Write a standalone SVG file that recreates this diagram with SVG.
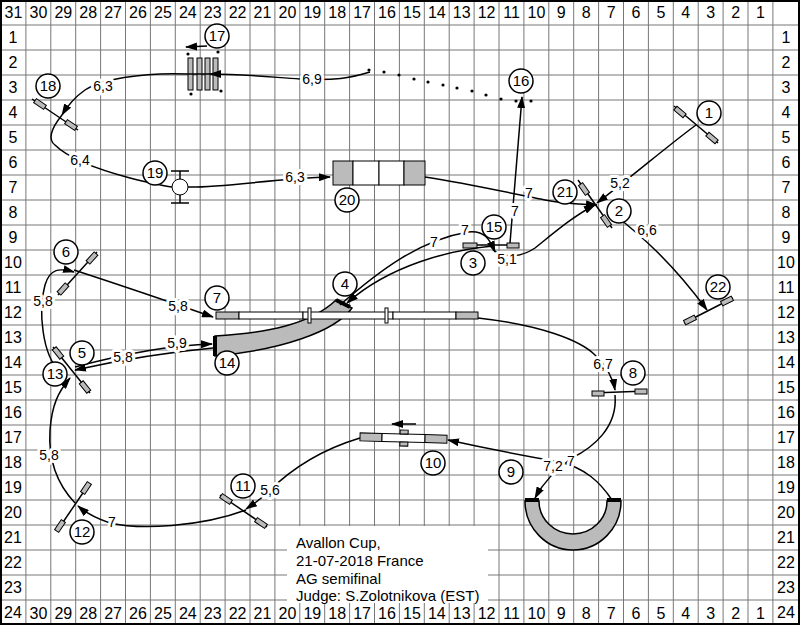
<svg xmlns="http://www.w3.org/2000/svg" width="800" height="625" viewBox="0 0 800 625">
<style>
.g{stroke:#777;stroke-width:1;fill:none}
.gl{font:16px "Liberation Sans",Arial,sans-serif;fill:#000;text-anchor:middle}
.c{fill:none;stroke:#000;stroke-width:1.5}
.ca{fill:none;stroke:#000;stroke-width:1.5;marker-end:url(#ah)}
.lb{font-family:"Liberation Sans",Arial,sans-serif;font-size:14px;text-anchor:middle;fill:#000;stroke:#fff;stroke-width:6px;stroke-linejoin:round;paint-order:stroke fill}
.nc{fill:#fff;stroke:#000;stroke-width:1.5}
.nt{font:15px "Liberation Sans",Arial,sans-serif;text-anchor:middle;fill:#000}
.w{fill:#bbb;stroke:#000;stroke-width:1}
.wh{fill:#fff;stroke:#000;stroke-width:1}
.bar{stroke:#000;stroke-width:1.5}
.tu{fill:#bbb;stroke:#000;stroke-width:1.5}
.cap{stroke:#000;stroke-width:4}
.info{font:15px "Liberation Sans",Arial,sans-serif;fill:#000}
</style>
<defs>
<marker id="ah" viewBox="0 0 12 8" refX="11" refY="4" markerWidth="12" markerHeight="8" markerUnits="userSpaceOnUse" orient="auto"><path d="M0,0 L12,4 L0,8 Z" fill="#000"/></marker>
<rect id="wr" x="-6" y="-2.5" width="12" height="5" class="w"/>
</defs>
<rect width="800" height="625" fill="#fff"/>
<g id="grid">
<path class="g" d="M25.9,0V625M50.8,0V625M75.7,0V625M100.6,0V625M125.5,0V625M150.4,0V625M175.3,0V625M200.2,0V625M225.1,0V625M250,0V625M274.9,0V625M299.8,0V625M324.7,0V625M349.6,0V625M374.5,0V625M399.4,0V625M424.3,0V625M449.2,0V625M474.1,0V625M499,0V625M523.9,0V625M548.8,0V625M573.7,0V625M598.6,0V625M623.5,0V625M648.4,0V625M673.3,0V625M698.2,0V625M723.1,0V625M748,0V625M772.9,0V625M0,25H800M0,50H800M0,75H800M0,100H800M0,125H800M0,150H800M0,175H800M0,200H800M0,225H800M0,250H800M0,275H800M0,300H800M0,325H800M0,350H800M0,375H800M0,400H800M0,425H800M0,450H800M0,475H800M0,500H800M0,525H800M0,550H800M0,575H800M0,600H800"/>
<rect x="1" y="1" width="798" height="623" fill="none" stroke="#000" stroke-width="2"/>
<g class="gl">
<text x="13.5" y="18">31</text><text x="38.4" y="18">30</text><text x="63.3" y="18">29</text><text x="88.2" y="18">28</text><text x="113.1" y="18">27</text><text x="138" y="18">26</text><text x="162.9" y="18">25</text><text x="187.8" y="18">24</text><text x="212.7" y="18">23</text><text x="237.6" y="18">22</text><text x="262.5" y="18">21</text><text x="287.4" y="18">20</text><text x="312.3" y="18">19</text><text x="337.2" y="18">18</text><text x="362.1" y="18">17</text><text x="387" y="18">16</text><text x="411.9" y="18">15</text><text x="436.8" y="18">14</text><text x="461.7" y="18">13</text><text x="486.6" y="18">12</text><text x="511.5" y="18">11</text><text x="536.4" y="18">10</text><text x="561.3" y="18">9</text><text x="586.2" y="18">8</text><text x="611.1" y="18">7</text><text x="636" y="18">6</text><text x="660.9" y="18">5</text><text x="685.8" y="18">4</text><text x="710.7" y="18">3</text><text x="735.6" y="18">2</text><text x="760.5" y="18">1</text>
<text x="13" y="43">1</text><text x="13" y="68">2</text><text x="13" y="93">3</text><text x="13" y="118">4</text><text x="13" y="143">5</text><text x="13" y="168">6</text><text x="13" y="193">7</text><text x="13" y="218">8</text><text x="13" y="243">9</text><text x="13" y="268">10</text><text x="13" y="293">11</text><text x="13" y="318">12</text><text x="13" y="343">13</text><text x="13" y="368">14</text><text x="13" y="393">15</text><text x="13" y="418">16</text><text x="13" y="443">17</text><text x="13" y="468">18</text><text x="13" y="493">19</text><text x="13" y="518">20</text><text x="13" y="543">21</text><text x="13" y="568">22</text><text x="13" y="593">23</text><text x="13" y="618">24</text>
<text x="786" y="43">1</text><text x="786" y="68">2</text><text x="786" y="93">3</text><text x="786" y="118">4</text><text x="786" y="143">5</text><text x="786" y="168">6</text><text x="786" y="193">7</text><text x="786" y="218">8</text><text x="786" y="243">9</text><text x="786" y="268">10</text><text x="786" y="293">11</text><text x="786" y="318">12</text><text x="786" y="343">13</text><text x="786" y="368">14</text><text x="786" y="393">15</text><text x="786" y="418">16</text><text x="786" y="443">17</text><text x="786" y="468">18</text><text x="786" y="493">19</text><text x="786" y="518">20</text><text x="786" y="543">21</text><text x="786" y="568">22</text><text x="786" y="593">23</text><text x="786" y="618">24</text>
</g>
</g>
<g id="info">
<rect x="287" y="526" width="201" height="77" fill="#fff"/>
<text class="info" x="296" y="548">Avallon Cup,</text>
<text class="info" x="296" y="566">21-07-2018 France</text>
<text class="info" x="296" y="584">AG semifinal</text>
<text class="info" x="296" y="601">Judge: S.Zolotnikova (EST)</text>
</g>
<g class="gl">
<text x="38.4" y="619">30</text><text x="63.3" y="619">29</text><text x="88.2" y="619">28</text><text x="113.1" y="619">27</text><text x="138" y="619">26</text><text x="162.9" y="619">25</text><text x="187.8" y="619">24</text><text x="212.7" y="619">23</text><text x="237.6" y="619">22</text><text x="262.5" y="619">21</text><text x="287.4" y="619">20</text><text x="312.3" y="619">19</text><text x="337.2" y="619">18</text><text x="362.1" y="619">17</text><text x="387" y="619">16</text><text x="411.9" y="619">15</text><text x="436.8" y="619">14</text><text x="461.7" y="619">13</text><text x="486.6" y="619">12</text><text x="511.5" y="619">11</text><text x="536.4" y="619">10</text><text x="561.3" y="619">9</text><text x="586.2" y="619">8</text><text x="611.1" y="619">7</text><text x="636" y="619">6</text><text x="660.9" y="619">5</text><text x="685.8" y="619">4</text><text x="710.7" y="619">3</text><text x="735.6" y="619">2</text><text x="760.5" y="619">1</text>
</g>
<g id="obstacles">
<g id="jump1"><line class="bar" x1="674" y1="106" x2="718" y2="143"/><use href="#wr" transform="translate(680,112) rotate(40)"/><use href="#wr" transform="translate(712,138) rotate(40)"/></g>
<g id="jump18"><line class="bar" x1="32" y1="99" x2="78" y2="130"/><use href="#wr" transform="translate(40,104) rotate(34)"/><use href="#wr" transform="translate(71,125) rotate(34)"/></g>
<g id="jump2-21"><line class="bar" x1="578" y1="180" x2="612" y2="228"/><use href="#wr" transform="translate(584,189) rotate(55)"/><use href="#wr" transform="translate(606,221) rotate(55)"/></g>
<g id="jump22"><line class="bar" x1="684" y1="323" x2="733" y2="298"/><use href="#wr" transform="translate(690,320) rotate(-27)"/><use href="#wr" transform="translate(727,301) rotate(-27)"/></g>
<g id="jump3-15"><line class="bar" x1="463" y1="245" x2="519" y2="245"/><rect class="w" x="463" y="243" width="14" height="5"/><rect class="w" x="507" y="243" width="12" height="5"/></g>
<g id="jump6"><line class="bar" x1="97" y1="252" x2="58" y2="295"/><use href="#wr" transform="translate(92,258) rotate(-48)"/><use href="#wr" transform="translate(63,289) rotate(-48)"/></g>
<g id="jump5-13"><line class="bar" x1="53" y1="347" x2="90" y2="393"/><use href="#wr" transform="translate(58,353) rotate(51)"/><use href="#wr" transform="translate(85,387) rotate(51)"/></g>
<g id="jump12"><line class="bar" x1="89" y1="484" x2="57" y2="531"/><use href="#wr" transform="translate(86,488) rotate(-56)"/><use href="#wr" transform="translate(60,526) rotate(-56)"/></g>
<g id="jump11"><line class="bar" x1="220" y1="495" x2="267" y2="527"/><use href="#wr" transform="translate(226,499) rotate(34)"/><use href="#wr" transform="translate(261,523) rotate(34)"/></g>
<g id="jump8"><line class="bar" x1="592" y1="393" x2="647" y2="391"/><rect class="w" x="592" y="391" width="12" height="5"/><rect class="w" x="635" y="389" width="12" height="5"/></g>
<g id="tire19"><line class="bar" x1="180" y1="171" x2="180" y2="203"/><line class="bar" x1="171" y1="171" x2="189" y2="171"/><line class="bar" x1="171" y1="203" x2="189" y2="203"/><circle cx="180" cy="187" r="8" class="wh" stroke-width="1.5"/></g>
<g id="wall17"><rect class="w" x="188" y="58" width="5" height="32"/><rect class="w" x="197" y="58" width="5" height="32"/><rect class="w" x="205" y="58" width="5" height="32"/><rect class="w" x="213" y="58" width="5" height="32"/><circle cx="188" cy="54" r="1.6"/><circle cx="218" cy="52" r="1.6"/><circle cx="191" cy="94" r="1.6"/><circle cx="221" cy="91" r="1.6"/></g>
<g id="dots16"><circle cx="369" cy="70" r="1.6"/><circle cx="384" cy="72" r="1.6"/><circle cx="399" cy="75" r="1.6"/><circle cx="414" cy="79" r="1.6"/><circle cx="428" cy="82" r="1.6"/><circle cx="443" cy="85" r="1.6"/><circle cx="457" cy="88" r="1.6"/><circle cx="472" cy="91" r="1.6"/><circle cx="486" cy="95" r="1.6"/><circle cx="501" cy="99" r="1.6"/><circle cx="516" cy="101" r="1.6"/><circle cx="531" cy="101" r="1.6"/></g>
<g id="aframe20"><rect class="w" x="333" y="161" width="20" height="24"/><rect class="wh" x="353" y="161" width="26" height="24"/><rect class="wh" x="379" y="161" width="25" height="24"/><rect class="w" x="404" y="161" width="21" height="24"/></g>
<g id="tunnel4-14"><path class="tu" d="M215,336 C265,333 310,325 336,300 L352,308 C335,332 280,350 215,356 Z"/><line class="cap" x1="215" y1="336" x2="215" y2="356"/><line class="cap" x1="336" y1="300" x2="350" y2="307"/></g>
<g id="dogwalk7"><rect class="w" x="216" y="312" width="23" height="7"/><rect class="wh" x="239" y="312" width="64" height="7"/><rect class="wh" x="303" y="312" width="90" height="7"/><rect class="wh" x="393" y="312" width="63" height="7"/><rect class="w" x="456" y="312" width="22" height="7"/><rect class="wh" x="308" y="308" width="3" height="15"/><rect class="wh" x="385" y="308" width="3" height="15"/></g>
<g id="tunnel9"><path class="tu" d="M525,501 A48,49 0 0 0 621,501 L607,501 A34,33 0 0 1 539,501 Z"/><line class="cap" x1="525" y1="500" x2="539" y2="500"/><line class="cap" x1="607" y1="500" x2="621" y2="500"/></g>
<g id="jump10"><g transform="rotate(1.5,403,438)"><rect class="w" x="360" y="434" width="22" height="8"/><rect class="wh" x="382" y="434" width="43" height="8"/><rect class="w" x="425" y="434" width="22" height="8"/><rect class="w" x="400" y="430" width="8" height="4"/><rect class="w" x="400" y="442" width="8" height="4"/></g><line class="ca" x1="416" y1="424" x2="392" y2="424"/></g>
<line class="ca" x1="207" y1="46" x2="186" y2="47"/>
</g>
<g id="connectors">
<path class="ca" d="M696,125 C665,148 640,170 597,203"/>
<path class="ca" d="M493,250 C505,258 520,258 535,248 C555,232 575,215 595,205"/>
<path class="ca" d="M425,177 C470,184 520,195 545,200 C565,204 580,204 597,205"/>
<path class="ca" d="M493,246 C450,250 390,265 347,303"/>
<path class="ca" d="M340,305 C380,270 420,240 468,232 C485,230 490,240 495,252"/>
<path class="ca" d="M213,348 C170,352 120,360 75,370"/>
<path class="ca" d="M75,367 C120,355 170,345 212,344"/>
<path class="ca" d="M60,372 C42,355 38,310 45,285 C50,268 60,268 74,272"/>
<path class="ca" d="M74,270 C120,285 170,302 213,317"/>
<path class="ca" d="M478,318 C540,325 580,340 595,355 C608,368 613,378 615,390"/>
<path class="c" d="M615,395 C618,428 592,448 572,458"/>
<path class="ca" d="M572,458 C552,472 542,485 535,498"/>
<path class="ca" d="M612,500 C600,482 585,468 560,462 C520,455 480,447 448,440"/>
<path class="ca" d="M360,438 C320,450 290,470 268,492 C260,500 252,505 246,509"/>
<path class="ca" d="M246,510 C200,527 140,530 110,523 C95,518 85,512 78,506"/>
<path class="ca" d="M75,503 C58,485 48,460 50,430 C52,405 58,392 70,378"/>
<path class="ca" d="M510,243 L522,97"/>
<path class="ca" d="M370,72 C350,78 335,81 300,79 C270,77 240,74 210,74"/>
<path class="c" d="M210,74 L188,74"/>
<path class="ca" d="M188,74 C140,72 100,80 85,90 C75,97 68,105 62,115"/>
<path class="c" d="M62,115 C50,130 48,140 55,145 C70,160 100,170 130,178 C150,183 165,186 172,187"/>
<path class="ca" d="M188,187 C220,188 280,178 330,177"/>
<path class="ca" d="M615,215 C640,235 670,260 707,310"/>
<g>
<text class="lb" x="620" y="188">5,2</text>
<text class="lb" x="507" y="264">5,1</text>
<text class="lb" x="529" y="198">7</text>
<text class="lb" x="434" y="247">7</text>
<text class="lb" x="465" y="235">7</text>
<text class="lb" x="515" y="216">7</text>
<text class="lb" x="123" y="362">5,8</text>
<text class="lb" x="177" y="348">5,9</text>
<text class="lb" x="43" y="306">5,8</text>
<text class="lb" x="178" y="311">5,8</text>
<text class="lb" x="603" y="369">6,7</text>
<text class="lb" x="571" y="466">7</text>
<text class="lb" x="553" y="471">7,2</text>
<text class="lb" x="270" y="495">5,6</text>
<text class="lb" x="112" y="527">7</text>
<text class="lb" x="49" y="460">5,8</text>
<text class="lb" x="312" y="84">6,9</text>
<text class="lb" x="103" y="91">6,3</text>
<text class="lb" x="80" y="165">6,4</text>
<text class="lb" x="295" y="182">6,3</text>
<text class="lb" x="647" y="235">6,6</text>
</g>
</g>
<g id="numbers">
<g id="n1"><circle class="nc" cx="709" cy="113" r="12"/><text class="nt" x="709" y="118">1</text></g>
<g id="n2"><circle class="nc" cx="619" cy="211" r="12"/><text class="nt" x="619" y="216">2</text></g>
<g id="n3"><circle class="nc" cx="473" cy="263" r="12"/><text class="nt" x="473" y="268">3</text></g>
<g id="n4"><circle class="nc" cx="345" cy="284" r="12"/><text class="nt" x="345" y="289">4</text></g>
<g id="n5"><circle class="nc" cx="82" cy="353" r="12"/><text class="nt" x="82" y="358">5</text></g>
<g id="n6"><circle class="nc" cx="66" cy="252" r="12"/><text class="nt" x="66" y="257">6</text></g>
<g id="n7"><circle class="nc" cx="217" cy="298" r="12"/><text class="nt" x="217" y="303">7</text></g>
<g id="n8"><circle class="nc" cx="633" cy="373" r="12"/><text class="nt" x="633" y="378">8</text></g>
<g id="n9"><circle class="nc" cx="511" cy="472" r="12"/><text class="nt" x="511" y="477">9</text></g>
<g id="n10"><circle class="nc" cx="433" cy="463" r="12"/><text class="nt" x="433" y="468">10</text></g>
<g id="n11"><circle class="nc" cx="243" cy="486" r="12"/><text class="nt" x="243" y="491">11</text></g>
<g id="n12"><circle class="nc" cx="82" cy="532" r="12"/><text class="nt" x="82" y="537">12</text></g>
<g id="n13"><circle class="nc" cx="55" cy="374" r="12"/><text class="nt" x="55" y="379">13</text></g>
<g id="n14"><circle class="nc" cx="227" cy="363" r="12"/><text class="nt" x="227" y="368">14</text></g>
<g id="n15"><circle class="nc" cx="494" cy="227" r="12"/><text class="nt" x="494" y="232">15</text></g>
<g id="n16"><circle class="nc" cx="521" cy="81" r="12"/><text class="nt" x="521" y="86">16</text></g>
<g id="n17"><circle class="nc" cx="217" cy="36" r="12"/><text class="nt" x="217" y="41">17</text></g>
<g id="n18"><circle class="nc" cx="48" cy="86" r="12"/><text class="nt" x="48" y="91">18</text></g>
<g id="n19"><circle class="nc" cx="155" cy="173" r="12"/><text class="nt" x="155" y="178">19</text></g>
<g id="n20"><circle class="nc" cx="347" cy="200" r="12"/><text class="nt" x="347" y="205">20</text></g>
<g id="n21"><circle class="nc" cx="565" cy="192" r="12"/><text class="nt" x="565" y="197">21</text></g>
<g id="n22"><circle class="nc" cx="718" cy="287" r="12"/><text class="nt" x="718" y="292">22</text></g>
</g>
</svg>
